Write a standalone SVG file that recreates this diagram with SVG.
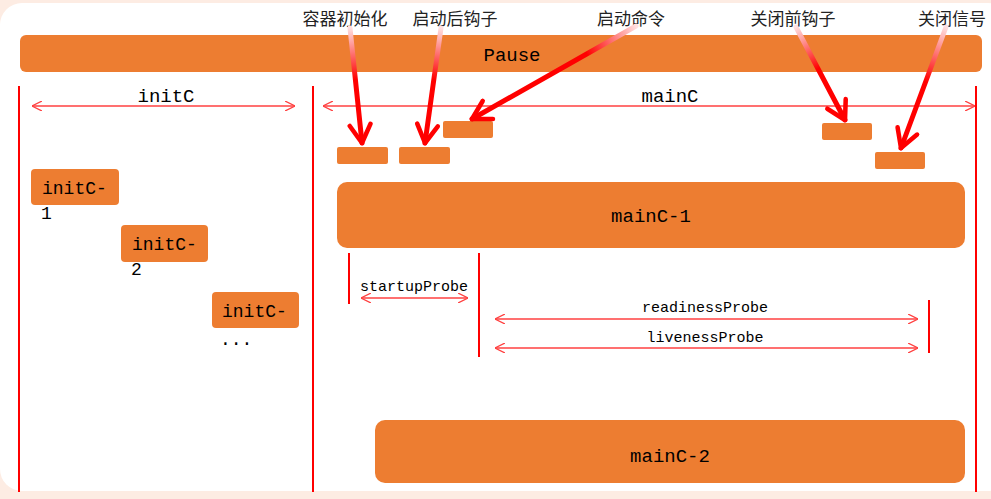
<svg xmlns="http://www.w3.org/2000/svg" width="991" height="499" viewBox="0 0 991 499">
<style>
.box{fill:#ED7D31;}
.t{font-family:"Liberation Mono","DejaVu Sans Mono",monospace;fill:#000;}
.cn{font-family:"Noto Sans CJK SC",sans-serif;font-size:17px;fill:#222;text-anchor:middle;}
.vl{stroke:#FF0000;stroke-width:2;}
.dim{stroke:#FF4040;stroke-width:1.3;fill:none;marker-start:url(#oa);marker-end:url(#oa);}
.big{stroke-width:5;fill:none;stroke-linecap:round;marker-end:url(#ba);}
</style>
<defs>
<marker id="oa" viewBox="0 0 10 10" refX="10" refY="5" markerWidth="10" markerHeight="10" markerUnits="userSpaceOnUse" orient="auto-start-reverse">
<path d="M0,0 L10,5 L0,10" fill="none" stroke="#FF4040" stroke-width="1.3"/>
</marker>
<marker id="ba" viewBox="0 0 20 20" refX="18" refY="10" markerWidth="26" markerHeight="26" markerUnits="userSpaceOnUse" orient="auto">
<path d="M4,2 L18,10 L4,18" fill="none" stroke="#FF0000" stroke-width="3.5" stroke-linecap="round" stroke-linejoin="round"/>
</marker>
<linearGradient id="g1" gradientUnits="userSpaceOnUse" x1="350" y1="28" x2="362" y2="143"><stop offset="0" stop-color="#FFE0E0"/><stop offset="0.45" stop-color="#FF0000"/></linearGradient>
<linearGradient id="g2" gradientUnits="userSpaceOnUse" x1="441" y1="28" x2="425" y2="143"><stop offset="0" stop-color="#FFE0E0"/><stop offset="0.45" stop-color="#FF0000"/></linearGradient>
<linearGradient id="g3" gradientUnits="userSpaceOnUse" x1="636" y1="26" x2="472" y2="119"><stop offset="0" stop-color="#FFE0E0"/><stop offset="0.3" stop-color="#FF0000"/></linearGradient>
<linearGradient id="g4" gradientUnits="userSpaceOnUse" x1="796" y1="27" x2="845" y2="120"><stop offset="0" stop-color="#FFE0E0"/><stop offset="0.45" stop-color="#FF0000"/></linearGradient>
<linearGradient id="g5" gradientUnits="userSpaceOnUse" x1="946" y1="27" x2="901" y2="148"><stop offset="0" stop-color="#FFE0E0"/><stop offset="0.45" stop-color="#FF0000"/></linearGradient>
</defs>
<rect x="0" y="0" width="991" height="499" fill="#FDECE3"/>
<rect x="0" y="3" width="1010" height="488" rx="22" fill="#FFFFFF"/>

<g id="pause"><rect class="box" x="20" y="35" width="962" height="37" rx="6"/><text class="t" x="512" y="61" font-size="19" text-anchor="middle">Pause</text></g>

<g id="dividers">
<line class="vl" x1="19" y1="86" x2="19" y2="492"/>
<line class="vl" x1="313" y1="86" x2="313" y2="492"/>
<line class="vl" x1="976" y1="86" x2="976" y2="492"/>
<line class="vl" x1="349" y1="253" x2="349" y2="304"/>
<line class="vl" x1="479" y1="253" x2="479" y2="357"/>
<line class="vl" x1="929" y1="300" x2="929" y2="353"/>
</g>

<g id="labels">
<text class="t" x="166" y="102" font-size="19" text-anchor="middle">initC</text>
<text class="t" x="670" y="102" font-size="19" text-anchor="middle">mainC</text>
<text class="t" x="414" y="291" font-size="15" text-anchor="middle">startupProbe</text>
<text class="t" x="705" y="312" font-size="15" text-anchor="middle">readinessProbe</text>
<text class="t" x="705" y="342" font-size="15" text-anchor="middle">livenessProbe</text>
<text class="cn" x="345" y="25">容器初始化</text>
<text class="cn" x="455" y="25">启动后钩子</text>
<text class="cn" x="631" y="25">启动命令</text>
<text class="cn" x="793" y="25">关闭前钩子</text>
<text class="cn" x="952" y="25">关闭信号</text>
</g>

<g id="hooks">
<rect class="box" x="337" y="147" width="51" height="17" rx="2"/>
<rect class="box" x="399" y="147" width="51" height="17" rx="2"/>
<rect class="box" x="443" y="121" width="50" height="17" rx="2"/>
<rect class="box" x="822" y="123" width="50" height="17" rx="2"/>
<rect class="box" x="875" y="152" width="50" height="17" rx="2"/>
</g>

<g id="initC-1"><rect class="box" x="31" y="169" width="88" height="36" rx="4"/><text class="t" x="42" y="194" font-size="18">initC-</text><text class="t" x="41" y="219" font-size="18">1</text></g>
<g id="initC-2"><rect class="box" x="121" y="225" width="87" height="37" rx="4"/><text class="t" x="132" y="250" font-size="18">initC-</text><text class="t" x="131" y="275" font-size="18">2</text></g>
<g id="initC-3"><rect class="box" x="212" y="292" width="87" height="36" rx="4"/><text class="t" x="222" y="317" font-size="18">initC-</text><text class="t" x="220" y="345" font-size="18">...</text></g>

<g id="mainC-1"><rect class="box" x="337" y="182" width="628" height="66" rx="10"/><text class="t" x="651" y="222" font-size="19" text-anchor="middle">mainC-1</text></g>
<g id="mainC-2"><rect class="box" x="375" y="420" width="590" height="63" rx="10"/><text class="t" x="670" y="462" font-size="19" text-anchor="middle">mainC-2</text></g>

<g id="connectors">
<line class="dim" x1="32" y1="106" x2="295" y2="106"/>
<line class="dim" x1="323" y1="106" x2="975" y2="106"/>
<line class="dim" x1="361" y1="298" x2="468" y2="298" stroke-width="2" stroke="#FF7070"/>
<line class="dim" x1="495" y1="319" x2="918" y2="319"/>
<line class="dim" x1="495" y1="348" x2="918" y2="348"/>
<path class="big" stroke="url(#g1)" d="M350,28 L362,143"/>
<path class="big" stroke="url(#g2)" d="M441,28 L425,143"/>
<path class="big" stroke="url(#g3)" d="M636,26 L472,119"/>
<path class="big" stroke="url(#g4)" d="M796,27 L845,120"/>
<path class="big" stroke="url(#g5)" d="M946,27 L901,148"/>
</g>
</svg>
